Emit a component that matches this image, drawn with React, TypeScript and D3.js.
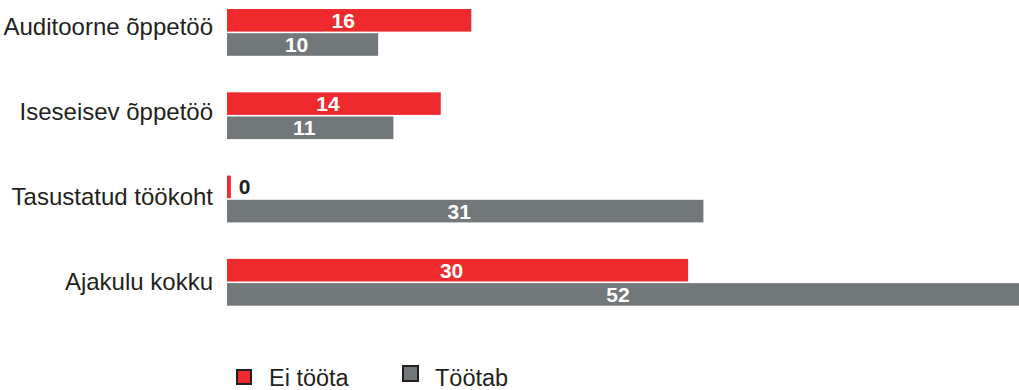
import React from "react";
import * as d3 from "d3";

const categories = ["Auditoorne õppetöö", "Iseseisev õppetöö", "Tasustatud töökoht", "Ajakulu kokku"];
const eiTootaValues = [16.0, 14.0, 0.25, 30.2];
const tootabValues = [9.9, 10.9, 31.2, 52.0];
const seriesNames = ["Ei tööta", "Töötab"];
const seriesColors = ["#ee2a2e", "#72787a"];

const W = 1019;
const H = 390;
const FONT = "'Liberation Sans', Arial, Helvetica, sans-serif";

export default function App() {
  const x = d3.scaleLinear().domain([0, 52]).range([227, 1021]);
  const y = d3
    .scalePoint<string>()
    .domain(categories)
    .range([32.4, 282.3]);

  const barH = 22.6;
  const gap = 0.8;

  const series = [eiTootaValues, tootabValues];

  return (
    <svg
      width={W}
      height={H}
      style={{ position: "fixed", left: 0, top: 0, background: "#fff" }}
      fontFamily={FONT}
    >
      {categories.map((c, i) => {
        const cy = y(c)!;
        return (
          <g key={c}>
            <text
              x={213}
              y={cy + 3 + i * 1.6}
              textAnchor="end"
              fontSize={24}
              fill="#231f20"
            >
              {c}
            </text>
            {series.map((vals, s) => {
              const v = vals[i];
              const top = s === 0 ? cy - gap - barH : cy + gap;
              const x0 = x(0);
              const x1 = x(v);
              const w = x1 - x0;
              const label = String(Math.round(v));
              const small = w < 30;
              return (
                <g key={s}>
                  <rect x={x0} y={top} width={w} height={barH} fill={seriesColors[s]} />
                  {small ? (
                    <text
                      x={x1 + 8}
                      y={top + barH / 2 + 7.5}
                      fontSize={21}
                      fontWeight="bold"
                      fill="#231f20"
                    >
                      {label}
                    </text>
                  ) : (
                    <text
                      x={x0 + w / 2 - 6}
                      y={top + barH / 2 + 7.5}
                      textAnchor="middle"
                      fontSize={21}
                      fontWeight="bold"
                      fill="#ffffff"
                    >
                      {label}
                    </text>
                  )}
                </g>
              );
            })}
          </g>
        );
      })}
      <g>
        <rect x={237} y={370} width={14} height={14} fill={seriesColors[0]} stroke="#231f20" strokeWidth={2} />
        <text x={269} y={386} fontSize={23.5} fill="#231f20">{seriesNames[0]}</text>
        <rect x={403} y={366} width={15} height={15} fill={seriesColors[1]} stroke="#231f20" strokeWidth={2} />
        <text x={435} y={386} fontSize={23.5} fill="#231f20">{seriesNames[1]}</text>
      </g>
    </svg>
  );
}
